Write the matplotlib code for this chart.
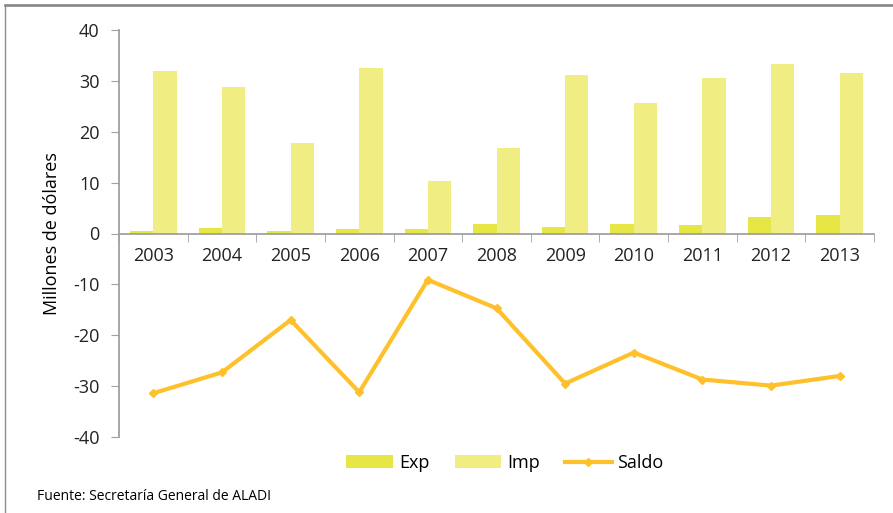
import matplotlib
matplotlib.use("Agg")
import matplotlib.pyplot as plt
import numpy as np
from matplotlib.lines import Line2D

years = ["2003", "2004", "2005", "2006", "2007", "2008", "2009", "2010", "2011", "2012", "2013"]
exp_vals = [0.45, 1.05, 0.45, 0.85, 0.85, 1.95, 1.25, 1.9, 1.7, 3.2, 3.65]
imp_vals = [32.0, 28.7, 17.8, 32.5, 10.3, 16.9, 31.1, 25.6, 30.5, 33.3, 31.6]
saldo_vals = [-31.4, -27.3, -17.0, -31.2, -9.1, -14.7, -29.5, -23.4, -28.7, -29.9, -28.0]

plt.rcParams['font.family'] = ['Open Sans', 'DejaVu Sans']
plt.rcParams['axes.unicode_minus'] = False

fig = plt.figure(figsize=(8.93, 5.13), dpi=100)
ax = fig.add_axes([119/893, 1-437/513, (874-119)/893, (437-30)/513])

x = np.arange(len(years))
w = 0.34
ax.bar(x - w/2, exp_vals, w, color='#E6E645', label='Exp', zorder=2)
ax.bar(x + w/2, imp_vals, w, color='#F0EE82', label='Imp', zorder=2)
ax.plot(x, saldo_vals, color='#FFC12B', lw=3, marker='D', ms=4.5, label='Saldo', zorder=3)

ax.set_xlim(-0.5, len(years) - 0.5)
ax.set_ylim(-40, 40)
ax.set_yticks(range(-40, 41, 10))
ax.tick_params(axis='y', labelsize=13, length=6, color='#a0a0a0', pad=8, labelcolor='#222222')

ax.spines['bottom'].set_position(('data', 0))
ax.spines['top'].set_visible(False)
ax.spines['right'].set_visible(False)
for s in ('bottom', 'left'):
    ax.spines[s].set_color('#a0a0a0')
    ax.spines[s].set_linewidth(1.3)

ax.set_xticks(x)
ax.set_xticklabels(years)
ax.set_xticks(np.arange(-0.5, len(years), 1.0), minor=True)
ax.tick_params(axis='x', which='major', length=0, labelsize=13, pad=10, labelcolor='#222222')
ax.tick_params(axis='x', which='minor', length=6, color='#a0a0a0', direction='out')

ax.set_ylabel('Millones de dólares', fontsize=13, labelpad=9)

handles, labels = ax.get_legend_handles_labels()
order = [1, 2, 0] if labels[0] == 'Saldo' else [0, 1, 2]
fig.legend([handles[i] for i in order], [labels[i] for i in order],
           loc='center', bbox_to_anchor=(505/893, 1-463/513), ncol=3, frameon=False,
           fontsize=13, handlelength=2.6, columnspacing=1.4, handletextpad=0.3)

fig.text(37/893, 1-497/513, 'Fuente: Secretaría General de ALADI', fontsize=10, va='center', ha='left')

fig.add_artist(Line2D([5/893, 1], [1-5/513, 1-5/513], color='#8c8c8c', lw=2, transform=fig.transFigure))
fig.add_artist(Line2D([5/893, 5/893], [0, 1-5/513], color='#8c8c8c', lw=1, transform=fig.transFigure))

fig.savefig('out.png', dpi=100)
